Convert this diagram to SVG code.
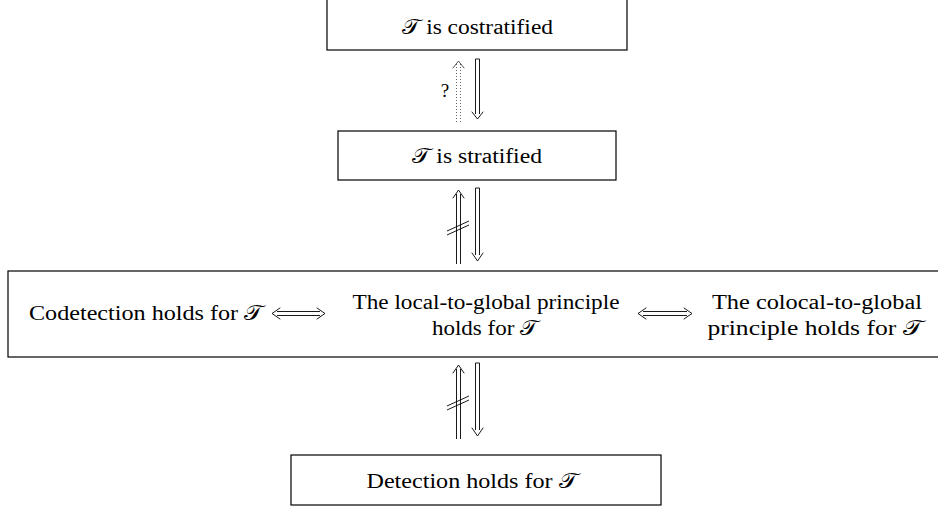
<svg xmlns="http://www.w3.org/2000/svg" width="938" height="508" viewBox="0 0 938 508">
<style>
.box{fill:#fff;stroke:#000;stroke-width:1.2}
text{font-family:"Liberation Serif","DejaVu Serif",serif;font-size:20.5px;fill:#000;text-anchor:middle}
.ln{stroke:#000;stroke-width:0.9;fill:none}
.dot{stroke:#555;stroke-width:0.9;fill:none;stroke-dasharray:1 2}
.hd{stroke:#000;stroke-width:0.9;fill:none;stroke-linecap:round;stroke-linejoin:round}
</style>
<rect width="938" height="508" fill="#fff"/>
<g id="costratified">
<rect class="box" x="327" y="-2" width="300" height="52"/>
<text x="477.5" y="34" textLength="151" lengthAdjust="spacingAndGlyphs">𝒯 is costratified</text>
</g>
<g id="stratified">
<rect class="box" x="338" y="131" width="278" height="49"/>
<text x="477" y="163" textLength="130" lengthAdjust="spacingAndGlyphs">𝒯 is stratified</text>
</g>
<g id="principles">
<rect class="box" x="8" y="271" width="936" height="86"/>
<text x="146" y="320" textLength="234" lengthAdjust="spacingAndGlyphs">Codetection holds for 𝒯</text>
<text x="486" y="309" textLength="267" lengthAdjust="spacingAndGlyphs">The local-to-global principle</text>
<text x="485" y="335" textLength="106" lengthAdjust="spacingAndGlyphs">holds for 𝒯</text>
<text x="817" y="309" textLength="210" lengthAdjust="spacingAndGlyphs">The colocal-to-global</text>
<text x="815" y="335" textLength="215" lengthAdjust="spacingAndGlyphs">principle holds for 𝒯</text>
</g>
<g id="detection">
<rect class="box" x="291" y="455" width="370" height="50"/>
<text x="472" y="488" textLength="211" lengthAdjust="spacingAndGlyphs">Detection holds for 𝒯</text>
</g>
<g id="connectors">
<line class="dot" x1="456.5" y1="122" x2="456.5" y2="64"/>
<line class="dot" x1="460.5" y1="122" x2="460.5" y2="64"/>
<path class="hd" d="M453 68 L458.5 61 L464 68" style="stroke:#444"/>
<text x="445" y="97" style="font-size:19px">?</text>
<line class="ln" x1="475.5" y1="59" x2="475.5" y2="114"/>
<line class="ln" x1="479.5" y1="59" x2="479.5" y2="114"/>
<line class="ln" x1="475.5" y1="59" x2="479.5" y2="59"/>
<path class="hd" d="M472 112 L477.5 119 L483 112"/>
<line class="ln" x1="456.5" y1="264" x2="456.5" y2="194"/>
<line class="ln" x1="460.5" y1="264" x2="460.5" y2="194"/>
<path class="hd" d="M453 198 L458.5 190 L464 198"/>
<line class="ln" x1="447" y1="231" x2="469" y2="221"/>
<line class="ln" x1="447" y1="235" x2="469" y2="225"/>
<line class="ln" x1="475.5" y1="188" x2="475.5" y2="255"/>
<line class="ln" x1="479.5" y1="188" x2="479.5" y2="255"/>
<line class="ln" x1="475.5" y1="188" x2="479.5" y2="188"/>
<path class="hd" d="M472 253 L477.5 261 L483 253"/>
<line class="ln" x1="456.5" y1="439" x2="456.5" y2="369"/>
<line class="ln" x1="460.5" y1="439" x2="460.5" y2="369"/>
<path class="hd" d="M453 373 L458.5 365 L464 373"/>
<line class="ln" x1="447" y1="406" x2="469" y2="396"/>
<line class="ln" x1="447" y1="410" x2="469" y2="400"/>
<line class="ln" x1="475.5" y1="363" x2="475.5" y2="430"/>
<line class="ln" x1="479.5" y1="363" x2="479.5" y2="430"/>
<line class="ln" x1="475.5" y1="363" x2="479.5" y2="363"/>
<path class="hd" d="M472 428 L477.5 436 L483 428"/>
<line class="ln" x1="277" y1="311.5" x2="320" y2="311.5"/>
<line class="ln" x1="277" y1="315.5" x2="320" y2="315.5"/>
<path class="hd" d="M280 308 L272 313.5 L280 319"/>
<path class="hd" d="M317 308 L325 313.5 L317 319"/>
<line class="ln" x1="643" y1="311.5" x2="687" y2="311.5"/>
<line class="ln" x1="643" y1="315.5" x2="687" y2="315.5"/>
<path class="hd" d="M646 308 L638 313.5 L646 319"/>
<path class="hd" d="M684 308 L692 313.5 L684 319"/>
</g>
</svg>
